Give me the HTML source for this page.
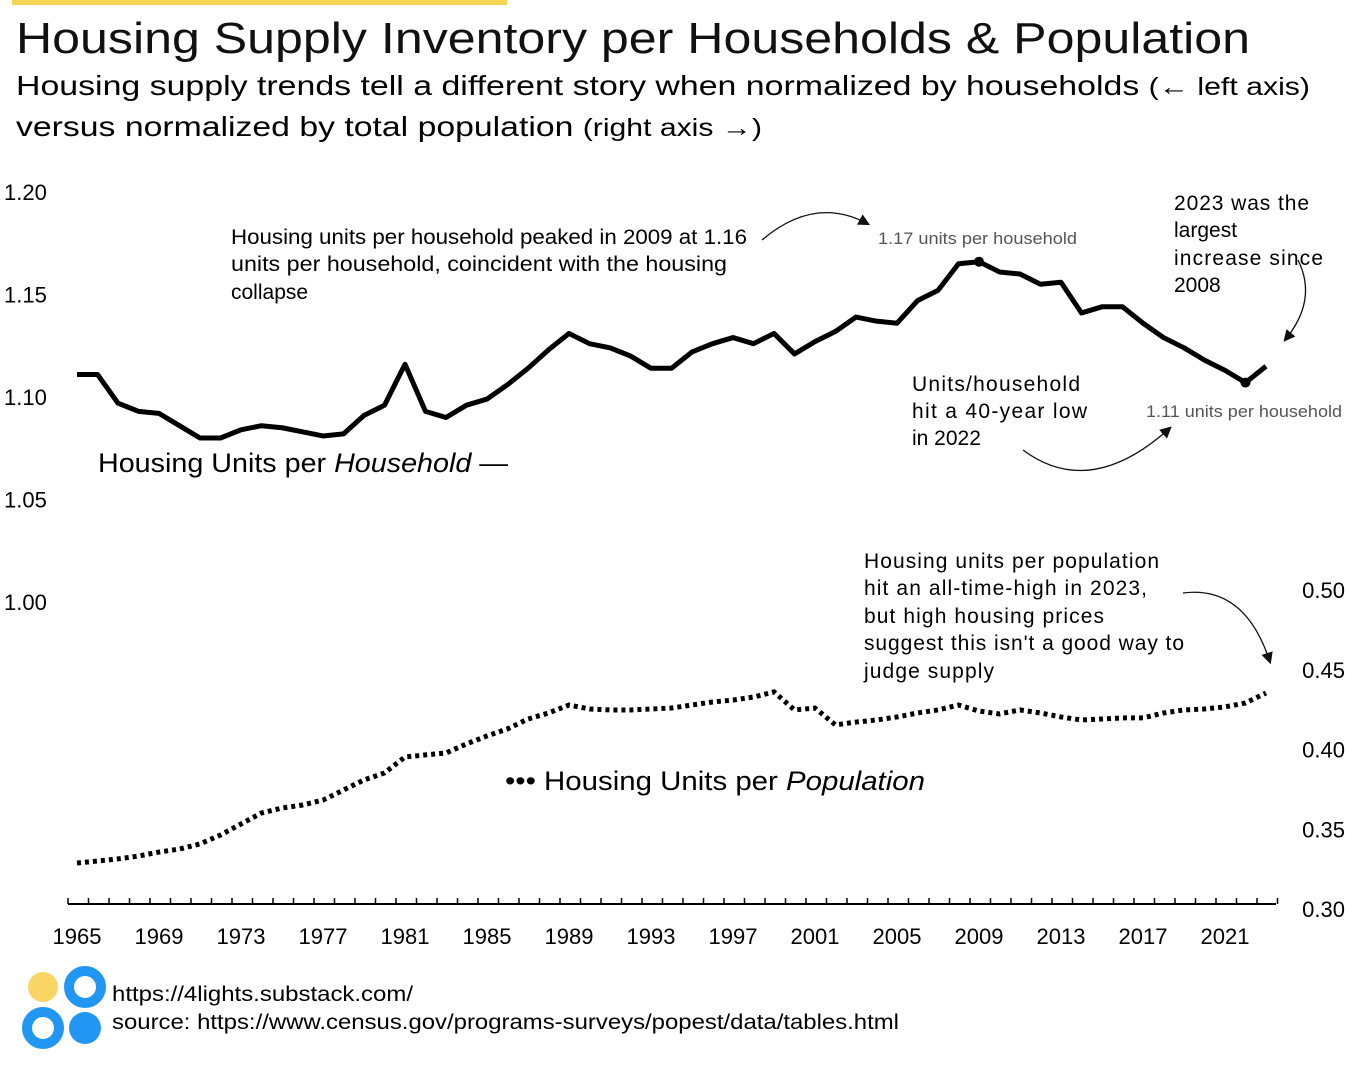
<!DOCTYPE html>
<html><head><meta charset="utf-8"><style>
body{margin:0;background:#fff;width:1345px;height:1065px;overflow:hidden;font-family:"Liberation Sans","DejaVu Sans",sans-serif;color:#111}
svg{position:absolute;left:0;top:0}
</style></head><body>
<svg width="1345" height="1065" viewBox="0 0 1345 1065" font-family="Liberation Sans, DejaVu Sans, sans-serif">
<defs><marker id="ah" viewBox="0 0 10 10" refX="8" refY="5" markerWidth="9" markerHeight="9" orient="auto"><path d="M0,0L10,5L0,10z" fill="#111"/></marker></defs>
<rect x="12" y="0" width="495" height="5" fill="#f5d553"/>
<text x="16" y="53" font-size="44" fill="#111" textLength="1234" lengthAdjust="spacingAndGlyphs">Housing Supply Inventory per Households &amp; Population</text>
<text x="16" y="95" font-size="28" textLength="1294" lengthAdjust="spacingAndGlyphs">Housing supply trends tell a different story when normalized by households <tspan font-size="25">(← left axis)</tspan></text>
<text x="16" y="136" font-size="28" textLength="746" lengthAdjust="spacingAndGlyphs">versus normalized by total population <tspan font-size="25">(right axis →)</tspan></text>
<g id="leftTicks" font-size="22"></g>
<g id="rightTicks" font-size="22"></g>
<g id="xaxis" font-size="22"></g>
<path id="hhLine" fill="none" stroke="#000" stroke-width="5" stroke-linejoin="round"/>
<path id="popLine" fill="none" stroke="#000" stroke-width="5" stroke-dasharray="4 4"/>
<g id="dots"></g>
<text x="98" y="472" font-size="27" textLength="410" lengthAdjust="spacingAndGlyphs">Housing Units per <tspan font-style="italic">Household</tspan> —</text>
<text x="505" y="790" font-size="27" textLength="420" lengthAdjust="spacingAndGlyphs">••• Housing Units per <tspan font-style="italic">Population</tspan></text>
<g font-size="21">
<text x="231" y="244" textLength="516" lengthAdjust="spacingAndGlyphs">Housing units per household peaked in 2009 at 1.16</text>
<text x="231" y="271" textLength="496" lengthAdjust="spacingAndGlyphs">units per household, coincident with the housing</text>
<text x="231" y="299">collapse</text></g>
<path d="M762,240 Q815,195 868,224" fill="none" stroke="#111" stroke-width="1.3" marker-end="url(#ah)"/>
<text x="878" y="244" font-size="17" fill="#555" textLength="199" lengthAdjust="spacingAndGlyphs">1.17 units per household</text>
<g font-size="21">
<text x="1174" y="210" textLength="135">2023 was the</text><text x="1174" y="237">largest</text><text x="1174" y="265" textLength="149">increase since</text><text x="1174" y="292">2008</text></g>
<path d="M1298,260 Q1318,300 1285,340" fill="none" stroke="#111" stroke-width="1.3" marker-end="url(#ah)"/>
<g font-size="21">
<text x="912" y="391" textLength="168">Units/household</text><text x="912" y="418" textLength="175">hit a 40-year low</text><text x="912" y="445">in 2022</text></g>
<path d="M1023,450 Q1090,500 1170,428" fill="none" stroke="#111" stroke-width="1.3" marker-end="url(#ah)"/>
<text x="1146" y="417" font-size="17" fill="#555" textLength="196" lengthAdjust="spacingAndGlyphs">1.11 units per household</text>
<g font-size="21">
<text x="864" y="568" textLength="295">Housing units per population</text><text x="864" y="595" textLength="283">hit an all-time-high in 2023,</text><text x="864" y="623" textLength="240">but high housing prices</text><text x="864" y="650" textLength="320">suggest this isn't a good way to</text><text x="864" y="678" textLength="130">judge supply</text></g>
<path d="M1183,593 Q1245,585 1270,662" fill="none" stroke="#111" stroke-width="1.3" marker-end="url(#ah)"/>
<g>
<circle cx="43" cy="987" r="15" fill="#f8d564"/>
<circle cx="85" cy="987" r="16" fill="none" stroke="#2196f3" stroke-width="10"/>
<circle cx="43" cy="1028" r="16" fill="none" stroke="#2196f3" stroke-width="10"/>
<circle cx="85" cy="1028" r="16" fill="#2196f3"/></g>
<text x="112" y="1001" font-size="21" textLength="301" lengthAdjust="spacingAndGlyphs">https://4lights.substack.com/</text>
<text x="112" y="1029" font-size="21" textLength="787" lengthAdjust="spacingAndGlyphs">source: https://www.census.gov/programs-surveys/popest/data/tables.html</text>
</svg>
<script>
const years=[];for(let y=1965;y<=2023;y++)years.push(y);
const householdValues=[1.111,1.111,1.097,1.093,1.092,1.086,1.080,1.080,1.084,1.086,1.085,1.083,1.081,1.082,1.091,1.096,1.116,1.093,1.090,1.096,1.099,1.106,1.114,1.123,1.131,1.126,1.124,1.120,1.114,1.114,1.122,1.126,1.129,1.126,1.131,1.121,1.127,1.132,1.139,1.137,1.136,1.147,1.152,1.165,1.166,1.161,1.160,1.155,1.156,1.141,1.144,1.144,1.136,1.129,1.124,1.118,1.113,1.107,1.115];
const populationValues=[.3288,.3301,.3314,.3332,.3357,.3376,.3408,.3464,.3533,.3602,.3633,.3652,.3683,.3746,.3809,.3853,.3953,.3966,.3978,.4035,.4085,.4129,.4191,.4229,.4279,.4254,.4248,.4248,.4254,.4260,.4279,.4298,.4310,.4329,.4361,.4248,.4260,.4154,.4172,.4185,.4204,.4229,.4248,.4279,.4241,.4223,.4248,.4229,.4204,.4185,.4191,.4198,.4198,.4229,.4248,.4254,.4267,.4292,.4354];
const leftTickLabels=["1.20","1.15","1.10","1.05","1.00"];
const rightTickLabels=["0.50","0.45","0.40","0.35","0.30"];
const xTickLabels=[1965,1969,1973,1977,1981,1985,1989,1993,1997,2001,2005,2009,2013,2017,2021];
const NS="http://www.w3.org/2000/svg";
const xS=y=>77+(y-1965)*20.5;
const yL=v=>192+(1.20-v)/0.05*102.5;
const yR=v=>909-(v-0.30)/0.05*79.75;
function mk(tag,attrs,parent,txt){const e=document.createElementNS(NS,tag);for(const k in attrs)e.setAttribute(k,attrs[k]);if(txt!=null)e.textContent=txt;parent.appendChild(e);return e;}
const lt=document.getElementById('leftTicks');
leftTickLabels.forEach(l=>{const t=mk('text',{x:4,y:yL(+l)+8},lt,l);

});
const rt=document.getElementById('rightTicks');
rightTickLabels.forEach(l=>{const t=mk('text',{x:1345,y:yR(+l)+8,'text-anchor':'end'},rt,l);

});
const xa=document.getElementById('xaxis');
mk('line',{x1:xS(1965)-9,x2:xS(2023)+10,y1:904,y2:904,stroke:'#000','stroke-width':2},xa);
for(let y=1965;y<=2024;y++){const x=xS(y)-9;mk('line',{x1:x,x2:x,y1:898,y2:904,stroke:'#000','stroke-width':1.5},xa);}
xTickLabels.forEach(y=>{const t=mk('text',{x:xS(y),y:944,'text-anchor':'middle'},xa,String(y));

});
document.getElementById('hhLine').setAttribute('d',householdValues.map((v,i)=>(i?'L':'M')+xS(years[i])+','+yL(v)).join(''));
document.getElementById('popLine').setAttribute('d',populationValues.map((v,i)=>(i?'L':'M')+xS(years[i])+','+yR(v)).join(''));
const dots=document.getElementById('dots');
[2009,2022].forEach(y=>{const i=years.indexOf(y);const c=mk('circle',{cx:xS(y),cy:yL(householdValues[i]),r:5,fill:'#000'},dots);

});
</script>
</body></html>
